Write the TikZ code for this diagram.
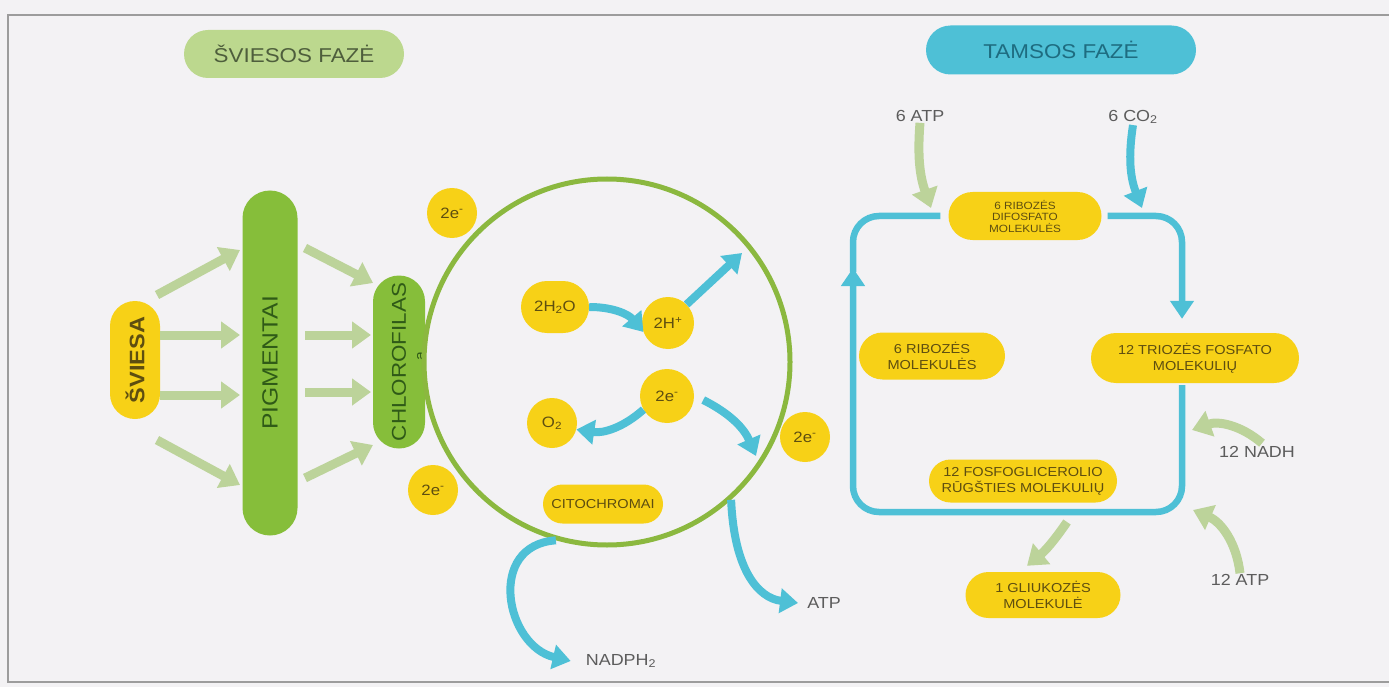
\documentclass[tikz,border=0pt]{standalone}
\usepackage{fontspec}
\setmainfont{Liberation Sans}[FakeStretch=1.12]
\usepackage{tikz}
\usetikzlibrary{positioning,shapes.misc,arrows.meta,calc}
\definecolor{paper}{HTML}{F3F2F4}
\definecolor{framegray}{HTML}{9C9C9C}
\definecolor{yolk}{HTML}{F7D117}
\definecolor{yolkink}{HTML}{5E4E10}
\definecolor{leaf}{HTML}{86BE3A}
\definecolor{leafink}{HTML}{2F5A17}
\definecolor{leafpale}{HTML}{BCD88E}
\definecolor{leafpaleink}{HTML}{4E5E3C}
\definecolor{aqua}{HTML}{4EC0D6}
\definecolor{aquaink}{HTML}{1E6C80}
\definecolor{sprout}{HTML}{BCD39A}
\definecolor{ringgreen}{HTML}{8BB83F}
\definecolor{ink}{HTML}{5C5C5C}
\tikzset{
	pill/.style={
		rounded rectangle,
		inner sep=1pt,
		align=center
	},
	phase/.style={pill, font=\fontsize{20}{24}\selectfont},
	vpill/.style={pill, rotate=90},
	ypill/.style={pill, fill=yolk, text=yolkink, font=\fontsize{13}{16}\selectfont},
	elec/.style={circle, fill=yolk, text=yolkink, inner sep=0, minimum size=50, font=\fontsize{15}{16}\selectfont},
	lbl/.style={text=ink, inner sep=1pt, font=\fontsize{16}{18}\selectfont},
	garrow/.style={draw=sprout, line width=9pt, -{Triangle[width=26pt,length=19pt]}},
	barrow/.style={draw=aqua, line width=8pt, -{Triangle[width=24pt,length=18pt]}},
	loopline/.style={draw=aqua, line width=6.5pt, rounded corners=26pt}
}
\begin{document}
\begin{tikzpicture}[x=1pt, y=-1pt]
	\useasboundingbox (0,0) rectangle (1389,687);
	\fill[paper] (0,0) rectangle (1389,687);
	\draw[framegray, line width=2.5pt] (1389,15) -- (8,15) -- (8,682) -- (1389,682);

	% light phase
	\node[phase, fill=leafpale, text=leafpaleink, minimum width=222, minimum height=48] (light) at (294,54) {ŠVIESOS FAZĖ};
	\node[vpill, fill=yolk, text=yolkink, minimum width=120, minimum height=50, font=\bfseries\fontsize{21}{24}\selectfont] (sv) at (135,360) {ŠVIESA};
	\node[vpill, fill=leaf, text=leafink, minimum width=347, minimum height=55, font=\fontsize{22}{24}\selectfont] (pig) at (270,363) {PIGMENTAI};
	\node[vpill, fill=leaf, text=leafink, minimum width=175, minimum height=52, font=\fontsize{20}{24}\selectfont] (chl) at (399,362) {CHLOROFILAS};
	\node[rotate=90, text=leafink, inner sep=0, font=\fontsize{14}{14}\selectfont] (chla) at (421,356) {a};

	\foreach \a/\b/\c/\d in {22/-65/-30/-113, 25/-25/-30/-28, 25/35/-30/32, 22/80/-30/122}
		\draw[garrow] ($(sv)+(\a,\b)$) -- ($(pig)+(\c,\d)$);
	\foreach \a/\b/\c/\d in {35/-115/-26/-79, 35/-28/-28/-27, 35/29/-28/30, 35/115/-26/83}
		\draw[garrow] ($(pig)+(\a,\b)$) -- ($(chl)+(\c,\d)$);

	\node[elec] (e1) at (452,213) {2e\textsuperscript{-}};
	\node[elec] (e2) at (433,490) {2e\textsuperscript{-}};
	\node[elec] (e3) at (805,437) {2e\textsuperscript{-}};
	\node[elec, minimum size=54] (e4) at (667,396) {2e\textsuperscript{-}};
	\node[elec, minimum size=52] (hp) at (668,323) {2H\textsuperscript{+}};
	\node[elec] (o2) at (552,423) {O\textsubscript{2}};
	\node[ypill, minimum width=70, minimum height=52, font=\fontsize{15}{16}\selectfont] (h2o) at (555,307) {2H\textsubscript{2}O};
	\node[ypill, minimum width=122, minimum height=39] (cyt) at (603,504) {CITOCHROMAI};
	\node[circle, draw=ringgreen, line width=5pt, minimum size=366, inner sep=0] (thyl) at (607,362) {};

	\node[lbl] (nadph) at (621,661) {NADPH\textsubscript{2}};
	\node[lbl] (atp) at (824,603) {ATP};
	\coordinate (hup) at (742,253);
	\coordinate (ecut) at (756,456);

	\draw[barrow] (h2o.east) to[bend left=25] (hp.200);
	\draw[barrow] (hp.45) -- (hup);
	\draw[barrow] (e4.210) to[bend left=25] (o2.-15);
	\draw[barrow] ($(e4.east)+(9,4)$) to[bend left=20] (ecut);
	\draw[barrow] (thyl.254) .. controls +(-70,5) and +(-65,-15) .. ([xshift=-14pt]nadph.west);
	\draw[barrow] (thyl.312) .. controls +(3,70) and +(-40,-5) .. ([xshift=-8pt]atp.west);

	% dark phase
	\node[phase, fill=aqua, text=aquaink, minimum width=272, minimum height=49] (dark) at (1061,50) {TAMSOS FAZĖ};
	\node[ypill, minimum width=155, minimum height=48, font=\fontsize{10.5}{11.5}\selectfont] (rd) at (1025,216) {6 RIBOZĖS\\DIFOSFATO\\MOLEKULĖS};
	\node[ypill, minimum width=148, minimum height=47] (rm) at (932,356) {6 RIBOZĖS\\MOLEKULĖS};
	\node[ypill, minimum width=210, minimum height=50] (tri) at (1195,358) {12 TRIOZĖS FOSFATO\\MOLEKULIŲ};
	\node[ypill, minimum width=190, minimum height=43] (fgr) at (1023,481) {12 FOSFOGLICEROLIO\\RŪGŠTIES MOLEKULIŲ};
	\node[ypill, minimum width=157, minimum height=46] (gl) at (1043,595) {1 GLIUKOZĖS\\MOLEKULĖ};

	\node[lbl] (atp6) at (920,116) {6 ATP};
	\node[lbl] (co2) at (1133,117) {6 CO\textsubscript{2}};
	\node[lbl] (nadh) at (1257,452) {12 NADH};
	\node[lbl] (atp12) at (1240,580) {12 ATP};

	\coordinate (lptl) at (853,216);
	\coordinate (lpbr) at (1182,512);
	\coordinate (atpin) at (931,208);
	\coordinate (co2in) at (1142,208);
	\coordinate (nadhin) at (1192,430);
	\coordinate (atpin2) at (1193,510);
	\coordinate (glout) at (1067,522);

	\draw[loopline, -{Triangle[width=23pt,length=18pt]}] ([yshift=-2pt]tri.south -| lpbr) -- (lpbr) -- (lpbr -| lptl) -- ($(lptl)+(0,52)$);
	\draw[loopline] ($(lptl)+(0,56)$) -- (lptl) -- ([xshift=-8pt]rd.west |- lptl);
	\draw[loopline, -{Triangle[width=23pt,length=18pt]}] ([xshift=6pt]rd.east) -- (lptl -| lpbr) -- ($(tri.north -| lpbr)+(0,-14)$);

	\draw[garrow] (atp6.south) to[bend right=12] (atpin);
	\draw[barrow] (co2.south) to[bend right=15] (co2in);
	\draw[garrow] ($(nadh.north)+(5,-2)$) to[bend right=30] (nadhin);
	\draw[garrow] (atp12.north) to[bend right=30] (atpin2);
	\draw[garrow] (glout) to[bend left=8] ([xshift=-16pt,yshift=6pt]gl.north);
\end{tikzpicture}
\end{document}
